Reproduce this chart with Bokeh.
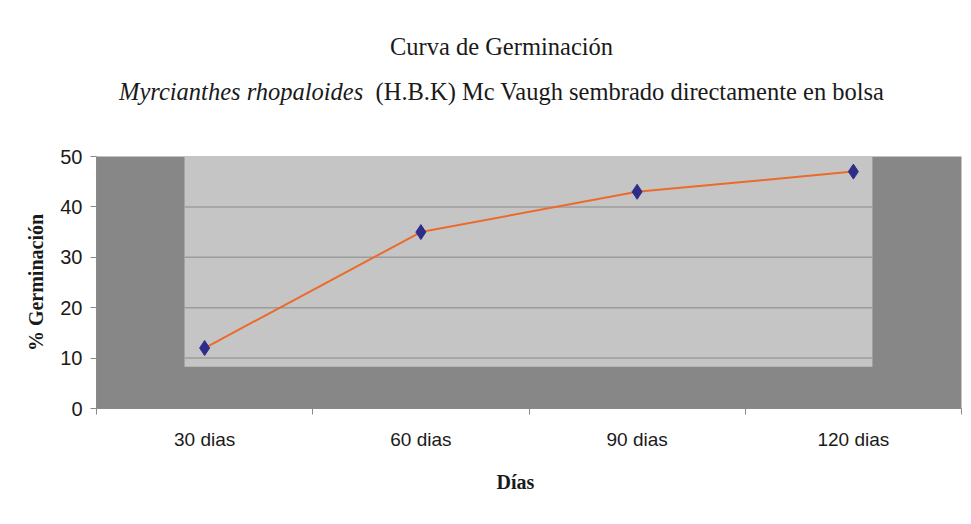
from bokeh.plotting import figure
from bokeh.models import Range1d, FixedTicker, Title, BoxAnnotation, ColumnDataSource, Div
from bokeh.layouts import column
from bokeh.embed import file_html
from bokeh.resources import INLINE

title_1 = "Curva de Germinación"
title_2_species = "Myrcianthes rhopaloides"
title_2_rest = "(H.B.K) Mc Vaugh sembrado directamente en bolsa"
x_title = "Días"
y_title = "% Germinación"

categories = ["30 dias", "60 dias", "90 dias", "120 dias"]
germinacion = [12, 35, 43, 47]
y_ticks = [0, 10, 20, 30, 40, 50]
grid_levels = [10, 20, 30, 40]

xpos = [i + 0.5 for i in range(len(categories))]

W = 971
DIV_H = 124
EXTRA = 10  # observed extra offset of the header block
FL, FT, FR, FB = 96, 156 - DIV_H - EXTRA, 961, 408 - DIV_H - EXTRA
H = 524 - DIV_H - EXTRA

header = Div(width=W, height=DIV_H, text=(
    '<div style="width:949px;margin-left:22px;padding-top:19px;text-align:center;'
    "font-family:'Liberation Serif';font-size:24.5px;line-height:45px;color:#1a1a1a;white-space:nowrap\">"
    f"{title_1}<br><i>{title_2_species}</i>&nbsp; {title_2_rest}</div>"))

p = figure(width=W, height=H, output_backend="svg", toolbar_location=None,
           x_range=Range1d(0, len(categories)), y_range=Range1d(0, 50),
           min_border_left=FL, min_border_right=W - FR, min_border_top=FT, min_border_bottom=H - FB)
p.background_fill_color = "#878787"
p.border_fill_color = "white"
p.outline_line_color = None
p.xgrid.visible = False
p.ygrid.visible = False

# inner light panel (background decoration)
rect_l, rect_r, rect_b = 0.407, 3.588, 8.3
p.add_layout(BoxAnnotation(left=rect_l, right=rect_r, bottom=rect_b, top=50,
                           fill_color="#c5c5c5", fill_alpha=1, line_color=None, level="underlay"))
p.segment(x0=[rect_l] * len(grid_levels), x1=[rect_r] * len(grid_levels),
          y0=grid_levels, y1=grid_levels, line_color="#9c9c9c", line_width=1.5)

src = ColumnDataSource(dict(x=xpos, y=germinacion))
p.line("x", "y", source=src, line_color="#ec6a2c", line_width=2)
p.scatter("x", "y", source=src, marker="diamond", size=15, fill_color="#2e2e8a", line_color="#2e2e8a")

# x axis
xa = p.xaxis[0]
xa.ticker = FixedTicker(ticks=xpos, minor_ticks=list(range(len(categories) + 1)))
xa.major_label_overrides = {x: c for x, c in zip(xpos, categories)}
xa.major_tick_out = 0
xa.major_tick_in = 0
xa.minor_tick_out = 6
xa.minor_tick_in = 0
xa.minor_tick_line_color = "#8a8a8a"
xa.axis_line_color = "#8a8a8a"
xa.major_label_text_font = "Liberation Sans"
xa.major_label_text_font_size = "19px"
xa.major_label_text_color = "#1a1a1a"
xa.major_label_standoff = 14

# y axis
ya = p.yaxis[0]
ya.ticker = FixedTicker(ticks=y_ticks, minor_ticks=[])
ya.major_tick_out = 6
ya.major_tick_in = 0
ya.major_tick_line_color = "#8a8a8a"
ya.axis_line_color = "#8a8a8a"
ya.major_label_text_font = "Liberation Sans"
ya.major_label_text_font_size = "20px"
ya.major_label_text_color = "#1a1a1a"
ya.major_label_standoff = 8
ya.axis_label = y_title
ya.axis_label_text_font = "Liberation Serif"
ya.axis_label_text_font_style = "bold"
ya.axis_label_text_font_size = "20px"
ya.axis_label_text_color = "#1a1a1a"
ya.axis_label_standoff = 10

p.add_layout(Title(text=x_title, align="left", offset=400, standoff=33,
                   text_font="Liberation Serif", text_font_size="20px", text_font_style="bold",
                   text_color="#1a1a1a"), "below")

layout = column(header, p, spacing=0)
open("out.html", "w").write(file_html(layout, INLINE))
